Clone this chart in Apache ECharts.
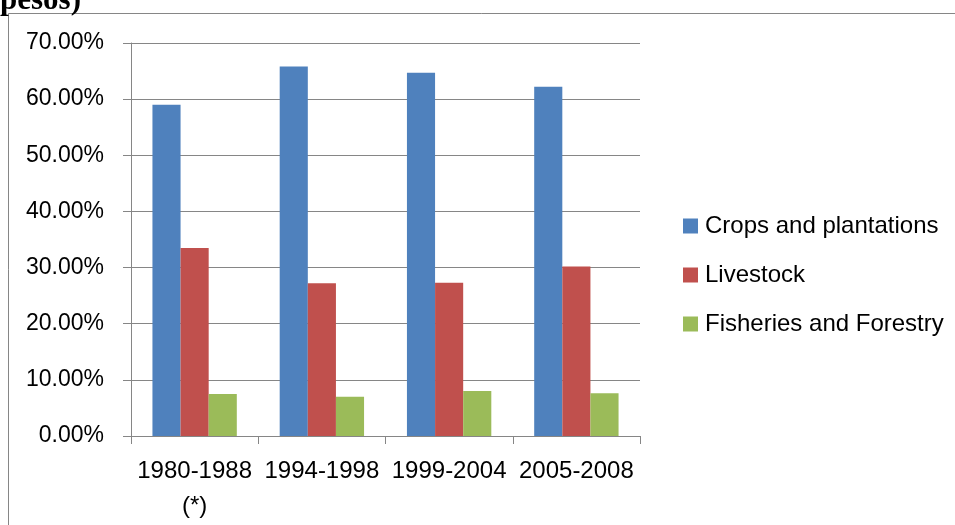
<!DOCTYPE html>
<html>
<head>
<meta charset="utf-8">
<script src="https://cdn.jsdelivr.net/npm/echarts@6/dist/echarts.min.js"></script>
<style>
html,body{margin:0;padding:0;background:#fff;}
#chart{width:955px;height:525px;}
</style>
</head>
<body>
<div id="chart"></div>
<script>
const categories = ['1980-1988\n(*)', '1994-1998', '1999-2004', '2005-2008'];
const cropsAndPlantations = [59.0, 65.8, 64.7, 62.2];
const livestock = [33.5, 27.2, 27.3, 30.2];
const fisheriesAndForestry = [7.5, 7.0, 8.0, 7.6];
const seriesNames = ['Crops and plantations', 'Livestock', 'Fisheries and Forestry'];
const headingText = 'pesos)';

const FONT = 'Liberation Sans';
const chart = echarts.init(document.getElementById('chart'), null, {renderer: 'canvas'});
chart.setOption({
  backgroundColor: '#ffffff',
  animation: false,
  color: ['#4F81BD', '#C0504D', '#9BBB59'],
  graphic: [
    {type: 'line', shape: {x1: 8.5, y1: 13.5, x2: 955, y2: 13.5}, style: {stroke: '#868686', lineWidth: 1}},
    {type: 'line', shape: {x1: 8.5, y1: 13.5, x2: 8.5, y2: 525}, style: {stroke: '#868686', lineWidth: 1}},
    {type: 'text', left: 0, top: -15, style: {text: headingText, font: 'bold 31px "Liberation Serif"', fill: '#000'}}
  ],
  grid: {left: 131, top: 43, right: 315, bottom: 89, containLabel: false},
  legend: {
    orient: 'vertical',
    left: 683,
    top: 214,
    padding: 0,
    itemWidth: 15,
    itemHeight: 15,
    itemGap: 25,
    icon: 'rect',
    textStyle: {fontFamily: FONT, fontSize: 24, color: '#000', lineHeight: 23, padding: [0, 0, 0, 2]},
    data: seriesNames
  },
  xAxis: {
    type: 'category',
    data: categories,
    axisLine: {lineStyle: {color: '#868686', width: 1}},
    axisTick: {show: true, length: 8, lineStyle: {color: '#868686'}},
    axisLabel: {fontFamily: FONT, fontSize: 24, color: '#000', margin: 18, lineHeight: 35, interval: 0}
  },
  yAxis: {
    type: 'value',
    min: 0,
    max: 70,
    interval: 10,
    axisLine: {show: true, lineStyle: {color: '#868686', width: 1}},
    axisTick: {show: true, length: 8, lineStyle: {color: '#868686'}},
    splitLine: {lineStyle: {color: '#868686', width: 1}},
    axisLabel: {fontFamily: FONT, fontSize: 23, color: '#000', margin: 27, formatter: v => v.toFixed(2) + '%'}
  },
  series: [
    {name: seriesNames[0], type: 'bar', data: cropsAndPlantations, barGap: '0%', barCategoryGap: '33.7%'},
    {name: seriesNames[1], type: 'bar', data: livestock, barGap: '0%', barCategoryGap: '33.7%'},
    {name: seriesNames[2], type: 'bar', data: fisheriesAndForestry, barGap: '0%', barCategoryGap: '33.7%'}
  ]
});
</script>
</body>
</html>
